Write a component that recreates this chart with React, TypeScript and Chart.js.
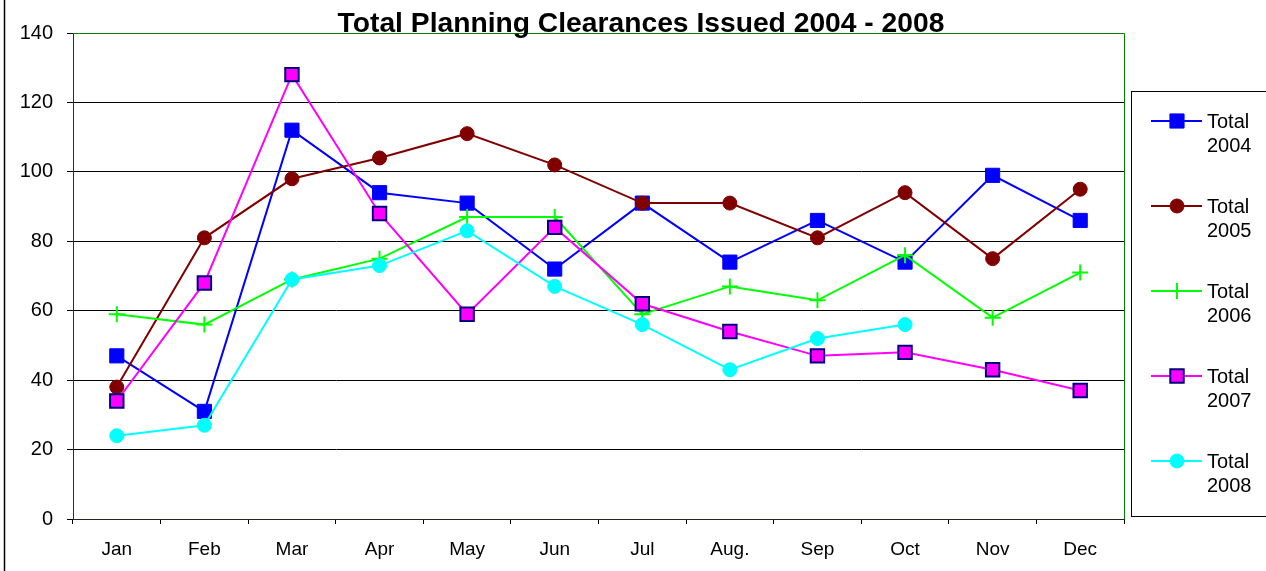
import React, { useEffect, useRef } from "react";
import { Chart, registerables } from "chart.js";

Chart.register(...registerables);

const months = ["Jan", "Feb", "Mar", "Apr", "May", "Jun", "Jul", "Aug.", "Sep", "Oct", "Nov", "Dec"];
const total2004 = [47, 31, 112, 94, 91, 72, 91, 74, 86, 74, 99, 86];
const total2005 = [38, 81, 98, 104, 111, 102, 91, 91, 81, 94, 75, 95];
const total2006 = [59, 56, 69, 75, 87, 87, 59, 67, 63, 76, 58, 71];
const total2007 = [34, 68, 128, 88, 59, 84, 62, 54, 47, 48, 43, 37];
const total2008 = [24, 27, 69, 73, 83, 67, 56, 43, 52, 56, null, null];
const seriesLabels = ["2004", "2005", "2006", "2007", "2008"];
const titleText = "Total Planning Clearances Issued 2004 - 2008";
const yMin = 0;
const yMax = 140;
const yStep = 20;

const FONT = "'Liberation Sans', Arial, sans-serif";

type Style = {
  color: string;
  point: string;
  fill: string;
  border: string;
  radius: number;
  borderWidth: number;
};

const styles: Style[] = [
  { color: "#0000ff", point: "rect", fill: "#0000ff", border: "#0000ff", radius: 10, borderWidth: 1 },
  { color: "#800000", point: "circle", fill: "#800000", border: "#800000", radius: 7, borderWidth: 1 },
  { color: "#00ff00", point: "cross", fill: "#00ff00", border: "#00ff00", radius: 8, borderWidth: 2 },
  { color: "#ff00ff", point: "rect", fill: "#ff00ff", border: "#000080", radius: 9.5, borderWidth: 2 },
  { color: "#00ffff", point: "circle", fill: "#00ffff", border: "#00ffff", radius: 7, borderWidth: 1 },
];

const seriesData = [total2004, total2005, total2006, total2007, total2008];

function drawMarker(ctx: CanvasRenderingContext2D, s: Style, x: number, y: number) {
  ctx.save();
  ctx.fillStyle = s.fill;
  ctx.strokeStyle = s.border;
  ctx.lineWidth = s.borderWidth;
  if (s.point === "rect") {
    const h = s.radius * Math.SQRT1_2;
    ctx.beginPath();
    ctx.rect(x - h, y - h, 2 * h, 2 * h);
    ctx.fill();
    ctx.stroke();
  } else if (s.point === "circle") {
    ctx.beginPath();
    ctx.arc(x, y, s.radius, 0, Math.PI * 2);
    ctx.fill();
    ctx.stroke();
  } else if (s.point === "cross") {
    ctx.beginPath();
    ctx.moveTo(x - s.radius, y);
    ctx.lineTo(x + s.radius, y);
    ctx.moveTo(x, y - s.radius);
    ctx.lineTo(x, y + s.radius);
    ctx.stroke();
  }
  ctx.restore();
}

const decorPlugin = {
  id: "decor",
  afterDraw(chart: any) {
    const ctx: CanvasRenderingContext2D = chart.ctx;
    const a = chart.chartArea;
    ctx.save();
    // green top and right border of plot area
    ctx.strokeStyle = "#008000";
    ctx.lineWidth = 1;
    ctx.beginPath();
    ctx.moveTo(a.left, Math.round(a.top) + 0.5);
    ctx.lineTo(Math.round(a.right) + 0.5, Math.round(a.top) + 0.5);
    ctx.lineTo(Math.round(a.right) + 0.5, a.bottom);
    ctx.stroke();

    // outer left border
    ctx.strokeStyle = "#000";
    ctx.lineWidth = 1.5;
    ctx.beginPath();
    ctx.moveTo(4.5, 0);
    ctx.lineTo(4.5, 571);
    ctx.stroke();

    // title
    ctx.fillStyle = "#000";
    ctx.textAlign = "center";
    ctx.textBaseline = "alphabetic";
    let size = 26;
    ctx.font = `bold ${size}px ${FONT}`;
    const w = ctx.measureText(titleText).width;
    size = size * 607 / w;
    ctx.font = `bold ${size}px ${FONT}`;
    ctx.fillText(titleText, 641, 32);

    // legend box
    ctx.strokeStyle = "#000";
    ctx.lineWidth = 1;
    ctx.strokeRect(1131.5, 91.5, 140, 425);

    const centers = [121, 206, 291, 376, 461];
    ctx.font = `20px ${FONT}`;
    ctx.textAlign = "left";
    ctx.textBaseline = "middle";
    styles.forEach((s, i) => {
      const y = centers[i];
      ctx.strokeStyle = s.color;
      ctx.lineWidth = 2;
      ctx.beginPath();
      ctx.moveTo(1151, y);
      ctx.lineTo(1202, y);
      ctx.stroke();
      drawMarker(ctx, s, 1177, y);
      ctx.fillStyle = "#000";
      ctx.fillText("Total", 1207, y + 1);
      ctx.fillText(seriesLabels[i], 1207, y + 25);
    });
    ctx.restore();
  },
};

export default function App() {
  const ref = useRef<HTMLCanvasElement | null>(null);

  useEffect(() => {
    if (!ref.current) return;
    const chart = new Chart(ref.current, {
      type: "line",
      data: {
        labels: months,
        datasets: seriesData.map((d, i) => ({
          label: "Total " + seriesLabels[i],
          data: d,
          borderColor: styles[i].color,
          backgroundColor: styles[i].fill,
          borderWidth: 2,
          pointStyle: styles[i].point as any,
          pointRadius: styles[i].radius,
          pointBackgroundColor: styles[i].fill,
          pointBorderColor: styles[i].border,
          pointBorderWidth: styles[i].borderWidth,
          tension: 0,
          spanGaps: false,
          fill: false,
          order: 5 - i,
        })),
      },
      options: {
        responsive: false,
        animation: false,
        devicePixelRatio: 1,
        layout: { padding: { left: 0, top: 33, right: 142, bottom: 0 } },
        plugins: {
          legend: { display: false },
          title: { display: false },
          tooltip: { enabled: false },
        },
        scales: {
          x: {
            offset: true,
            grid: {
              offset: true,
              drawOnChartArea: false,
              tickLength: 5,
              tickColor: "#000",
              color: "#000",
            },
            border: { color: "#1a2a1a", width: 1 },
            ticks: {
              font: { family: FONT, size: 19 },
              color: "#000",
              padding: 14,
              maxRotation: 0,
              autoSkip: false,
            },
            afterFit: (s: any) => {
              s.height = 52;
            },
          },
          y: {
            min: yMin,
            max: yMax,
            ticks: {
              stepSize: yStep,
              padding: 14,
              font: { family: FONT, size: 20 },
              color: "#000",
            },
            grid: { color: "#000", tickLength: 6, lineWidth: 1 },
            border: { color: "#1a3a1a", width: 1 },
            afterFit: (s: any) => {
              s.width = 73;
            },
          },
        },
      },
      plugins: [decorPlugin],
    });
    return () => chart.destroy();
  }, []);

  return (
    <div style={{ position: "absolute", left: 0, top: 0, width: 1266, height: 571, background: "#fff" }}>
      <canvas ref={ref} width={1266} height={571} style={{ display: "block" }} />
    </div>
  );
}
